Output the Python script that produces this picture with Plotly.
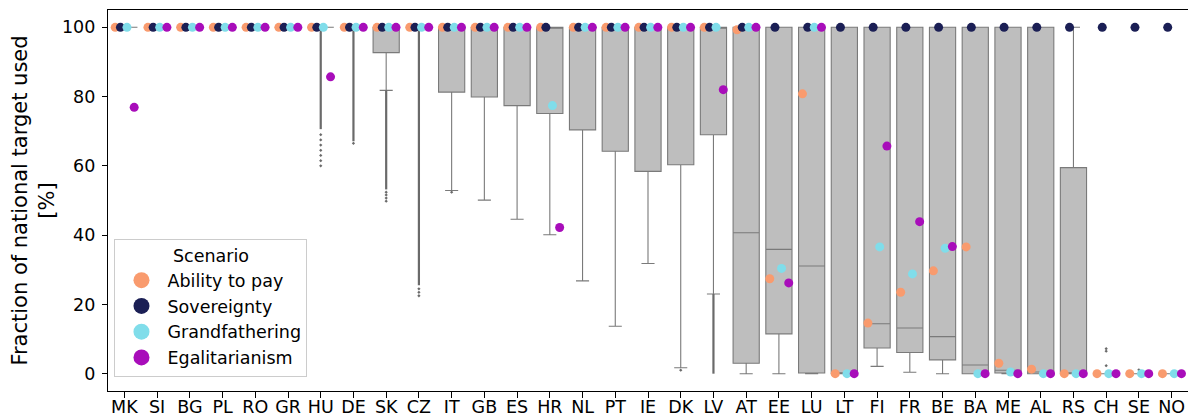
import plotly.graph_objects as go

countries = ["MK","SI","BG","PL","RO","GR","HU","DE","SK","CZ","IT","GB","ES","HR","NL","PT","IE",
             "DK","LV","AT","EE","LU","LT","FI","FR","BE","BA","ME","AL","RS","CH","SE","NO"]

# box statistics (percent of national target used)
whisker_low = [100,100,100,100,100,100,100,100,81.8,100,52.9,50.1,44.6,40.1,26.8,13.7,31.8,
               1.7,23.0,0,0,0,0,2.1,0.4,0,0,0,0,0,0,0,0]
q1          = [100,100,100,100,100,100,100,100,92.7,100,81.3,79.9,77.4,75.1,70.4,64.2,58.4,
               60.3,69.0,3.0,11.5,0.2,0,7.4,6.1,4.0,0,0.2,0,0,0,0,0]
median      = [100,100,100,100,100,100,100,100,100,100,100,100,100,100,100,100,100,
               100,100,40.7,35.9,31.1,0,14.4,13.2,10.7,2.5,1.0,0.5,0,0,0,0]
q3          = [100,100,100,100,100,100,100,100,100,100,100,100,100,100,100,100,100,
               100,100,100,100,100,100,100,100,100,100,100,100,59.5,0,0,0]
whisker_high= [100,100,100,100,100,100,100,100,100,100,100,100,100,100,100,100,100,
               100,100,100,100,100,100,100,100,100,100,100,100,100,0,0,0]

# dense outlier ranges (drawn as solid runs) : country, low, high
dense_country = ["HU","DE","SK","CZ","LV"]
dense_low     = [70.6, 67.1, 53.2, 25.5, 0.0]
dense_high    = [100, 100, 81.8, 100, 23.0]

# sparse outliers
sparse_country = ["HU","HU","HU","HU","HU","HU","HU","SK","SK","SK","SK","CZ","CZ","CZ",
                  "IT","DK","CH","CH","CH","SE","DE"]
sparse_value   = [60.0,61.5,63.0,64.5,66.0,67.5,69.0,49.8,50.7,51.6,52.4,22.5,23.5,24.5,
                  52.4,1.0,7.2,6.5,2.3,1.1,66.5]

scenarios = ["Ability to pay","Sovereignty","Grandfathering","Egalitarianism"]
ability = [100,100,100,100,100,100,100,100,100,100,100,100,100,100,100,100,100,
           100,100,99.3,27.4,80.8,0,14.6,23.5,29.7,36.6,3.0,1.3,0,0,0,0]
sovereignty = [100]*33
grandfathering = [100,100,100,100,100,100,100,100,100,100,100,100,100,77.4,100,100,100,
                  100,100,100,30.4,100,0,36.6,28.8,36.2,0,0.5,0,0,0,0,0]
egalitarianism = [76.9,100,100,100,100,100,85.7,100,100,100,100,100,100,42.2,100,100,100,
                  100,82.0,100,26.2,100,0,65.7,43.9,36.7,0,0,0,0,0,0,0]
scenario_values = [ability, sovereignty, grandfathering, egalitarianism]
scenario_colors = ["#F99B6E", "#1B1F55", "#80DDEA", "#A80DBA"]
scenario_offsets = [-0.28, -0.12, 0.08, 0.30]

pos = {c: i for i, c in enumerate(countries)}
xs = list(range(len(countries)))

fig = go.Figure()

fig.add_trace(go.Box(
    x=xs, q1=q1, median=median, q3=q3, lowerfence=whisker_low, upperfence=whisker_high,
    width=0.8, whiskerwidth=0.5, boxpoints=False,
    fillcolor="#BEBEBE", line=dict(color="#7A7A7A", width=1.1),
    showlegend=False, hoverinfo="skip"))

lx, ly = [], []
for c, lo, hi in zip(dense_country, dense_low, dense_high):
    lx += [pos[c], pos[c], None]
    ly += [lo, hi, None]
fig.add_trace(go.Scatter(x=lx, y=ly, mode="lines", line=dict(color="#6A6A6A", width=2.2),
                         showlegend=False, hoverinfo="skip"))

fig.add_trace(go.Scatter(x=[pos[c] for c in sparse_country], y=sparse_value, mode="markers",
                         marker=dict(color="#6A6A6A", size=2.5, symbol="diamond"),
                         showlegend=False, hoverinfo="skip"))

for name, vals, col, off in zip(scenarios, scenario_values, scenario_colors, scenario_offsets):
    fig.add_trace(go.Scatter(x=[i + off for i in xs], y=vals, mode="markers",
                             marker=dict(color=col, size=9, line=dict(width=0)),
                             showlegend=False, hoverinfo="skip"))

for name, col in zip(scenarios, scenario_colors):
    fig.add_trace(go.Scatter(x=[None], y=[None], mode="markers", name=name,
                             marker=dict(color=col, size=16)))

fig.update_layout(
    width=1196, height=418,
    margin=dict(l=100, r=16, t=2, b=35),
    paper_bgcolor="white", plot_bgcolor="white",
    font=dict(family="DejaVu Sans", size=17.5, color="black"),
    legend=dict(
        title=dict(text="Scenario", side="top center", font=dict(size=17.5)),
        x=0.006, y=0.038, xanchor="left", yanchor="bottom",
        bgcolor="rgba(255,255,255,0.85)", bordercolor="#CCCCCC", borderwidth=1,
        font=dict(size=17.5), itemsizing="trace", itemwidth=42, tracegroupgap=0),
)
fig.update_xaxes(
    range=[-0.5, 32.5], tickmode="array", tickvals=xs, ticktext=countries,
    showline=True, linecolor="black", linewidth=1.2, mirror=True,
    ticks="outside", ticklen=6, tickcolor="black", showgrid=False, zeroline=False,
    ticklabelstandoff=-6)
fig.update_yaxes(
    range=[-5, 105], tickvals=[0, 20, 40, 60, 80, 100],
    showline=True, linecolor="black", linewidth=1.2, mirror=True,
    ticks="outside", ticklen=5, tickcolor="black", showgrid=False, zeroline=False,
    ticklabelstandoff=3,
    title=dict(text="Fraction of national target used<br>[%]", standoff=5))

fig.write_html("out.html")
